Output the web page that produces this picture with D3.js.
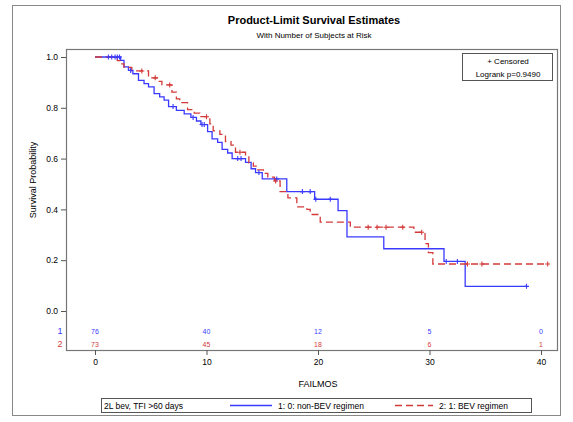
<!DOCTYPE html>
<html><head><meta charset="utf-8">
<script src="https://cdn.jsdelivr.net/npm/d3@7"></script>
<style>
html,body{margin:0;padding:0;background:#fff;}
svg text{font-family:Arial,"Liberation Sans",sans-serif;}
</style></head>
<body><svg id="c" width="573" height="422"></svg>
<script>
// ---- data ----
const xTicks = [0, 10, 20, 30, 40];
const yTicks = [0, 0.2, 0.4, 0.6, 0.8, 1.0];
const groupLabels = ["1: 0: non-BEV regimen", "2: 1: BEV regimen"];
const riskRowLabels = ["1", "2"];
const atRiskBlue = [76, 40, 12, 5, 0];
const atRiskRed = [73, 45, 18, 6, 1];

const blueTimes = [0, 2.3, 2.6, 3.0, 3.4, 3.9, 4.4, 4.8, 5.3, 5.8, 6.2, 6.6, 7.3, 8.0, 8.6, 9.1, 9.5, 10.1, 10.5, 11.0, 11.4, 11.9, 12.3, 13.5, 14.0, 14.4, 15.0, 17.2, 19.7, 21.8, 22.6, 25.9, 31.3, 33.2];
const blueSurv  = [1.0, 0.987, 0.961, 0.947, 0.934, 0.908, 0.895, 0.882, 0.856, 0.843, 0.83, 0.805, 0.79, 0.776, 0.762, 0.748, 0.734, 0.706, 0.678, 0.664, 0.636, 0.622, 0.60, 0.585, 0.56, 0.545, 0.52, 0.47, 0.44, 0.395, 0.292, 0.245, 0.195, 0.097];
const blueCensored = [1.2, 1.5, 1.8, 2.0, 2.2, 3.2, 7.0, 8.8, 9.6, 9.8, 12.8, 13.1, 14.7, 16.3, 18.6, 19.3, 19.8, 21.1, 31.5, 32.5, 38.7];

const redTimes = [0, 2.0, 2.3, 2.6, 3.3, 4.8, 5.6, 6.0, 6.9, 7.3, 7.6, 8.3, 8.9, 9.4, 10.3, 10.6, 11.2, 11.7, 12.2, 12.6, 13.5, 13.8, 14.2, 14.6, 15.1, 15.5, 16.1, 16.6, 17.3, 18.1, 19.0, 19.3, 20.2, 22.9, 28.6, 29.6, 29.9, 30.3];
const redSurv  = [1.0, 0.986, 0.973, 0.959, 0.945, 0.918, 0.904, 0.89, 0.862, 0.835, 0.82, 0.793, 0.779, 0.765, 0.737, 0.709, 0.695, 0.667, 0.653, 0.625, 0.611, 0.583, 0.57, 0.556, 0.542, 0.527, 0.512, 0.47, 0.445, 0.41, 0.40, 0.38, 0.35, 0.33, 0.31, 0.265, 0.23, 0.185];
const redCensored = [4.2, 5.4, 6.7, 10.0, 13.0, 16.2, 24.5, 25.3, 26.1, 27.6, 29.3, 33.4, 34.7, 40.6];

const blueColor = "#3a3aff", redColor = "#d43a3a";

// ---- layout ----
const svg = d3.select("#c");
const plot = {l: 66, r: 557, t: 49, b: 350};
const x = d3.scaleLinear().domain([0, 40]).range([95, 541]);
const y = d3.scaleLinear().domain([0, 1]).range([311, 57]);

svg.append("rect").attr("x", 12.5).attr("y", 5.5).attr("width", 548).attr("height", 410)
  .attr("fill", "#fff").attr("stroke", "#888").attr("stroke-width", 1);

svg.append("text").attr("x", 314).attr("y", 24).attr("text-anchor", "middle")
  .attr("font-size", 11).attr("font-weight", "bold").text("Product-Limit Survival Estimates");
svg.append("text").attr("x", 314).attr("y", 38).attr("text-anchor", "middle")
  .attr("font-size", 8).text("With Number of Subjects at Risk");

svg.append("rect").attr("x", plot.l + 0.5).attr("y", plot.t + 0.5)
  .attr("width", plot.r - plot.l).attr("height", plot.b - plot.t)
  .attr("fill", "none").attr("stroke", "#777").attr("stroke-width", 1.2);

// axes
const yAxis = d3.axisLeft(y).tickValues(yTicks).tickFormat(d3.format(".1f")).tickSize(5).tickPadding(3);
const gy = svg.append("g").attr("transform", `translate(${plot.l},0)`).call(yAxis);
gy.select(".domain").remove();
gy.selectAll("text").attr("font-size", 8.5).attr("fill", "#000");
gy.selectAll("line").attr("stroke", "#555");

const xAxis = d3.axisBottom(x).tickValues(xTicks).tickSize(5).tickPadding(4);
const gx = svg.append("g").attr("transform", `translate(0,${plot.b})`).call(xAxis);
gx.select(".domain").remove();
gx.selectAll("text").attr("font-size", 8.5).attr("fill", "#000");
gx.selectAll("line").attr("stroke", "#555");

svg.append("text").attr("x", 318).attr("y", 387).attr("text-anchor", "middle")
  .attr("font-size", 9).text("FAILMOS");
svg.append("text").attr("transform", "translate(36,180) rotate(-90)").attr("text-anchor", "middle")
  .attr("font-size", 9).text("Survival Probability");

// curves
function stepAt(times, surv, t) {
  let v = surv[0];
  for (let i = 0; i < times.length; i++) if (times[i] <= t) v = surv[i];
  return v;
}
function curvePts(times, surv, cens) {
  const pts = times.map((t, i) => [t, surv[i]]);
  const end = Math.max(d3.max(cens), d3.max(times));
  pts.push([end, surv[surv.length - 1]]);
  return pts;
}
const line = d3.line().x(d => x(d[0])).y(d => y(d[1])).curve(d3.curveStepAfter);

function drawCurve(times, surv, cens, color, dash) {
  svg.append("path").datum(curvePts(times, surv, cens))
    .attr("d", line).attr("fill", "none").attr("stroke", color)
    .attr("stroke-width", 1.3).attr("stroke-dasharray", dash);
}
function drawCens(times, surv, cens, color) {
  const g = svg.append("g");
  cens.forEach(t => {
    const cx = x(t), cy = y(stepAt(times, surv, t));
    g.append("path").attr("d", `M${cx - 2.5},${cy}H${cx + 2.5}M${cx},${cy - 2.5}V${cy + 2.5}`)
      .attr("stroke", color).attr("stroke-width", 1.1).attr("fill", "none");
  });
}
drawCurve(blueTimes, blueSurv, blueCensored, blueColor, null);
drawCurve(redTimes, redSurv, redCensored, redColor, "7,4");
drawCens(blueTimes, blueSurv, blueCensored, blueColor);
drawCens(redTimes, redSurv, redCensored, redColor);

// inset
svg.append("rect").attr("x", 462.5).attr("y", 53.5).attr("width", 90).attr("height", 27)
  .attr("fill", "#fff").attr("stroke", "#555");
svg.append("text").attr("x", 508).attr("y", 64).attr("text-anchor", "middle").attr("font-size", 8).text("+ Censored");
svg.append("text").attr("x", 508).attr("y", 77).attr("text-anchor", "middle").attr("font-size", 8).text("Logrank p=0.9490");

// at risk
const rows = [[atRiskBlue, blueColor, 331], [atRiskRed, redColor, 344]];
rows.forEach(([vals, col, yy], k) => {
  svg.append("text").attr("x", 60).attr("y", yy + 3).attr("text-anchor", "middle")
    .attr("font-size", 9).attr("fill", col).text(riskRowLabels[k]);
  svg.selectAll(null).data(vals).enter().append("text")
    .attr("x", (d, i) => x(xTicks[i])).attr("y", yy + 2.5).attr("text-anchor", "middle")
    .attr("font-size", 7).attr("fill", col).text(d => d);
});

// legend
svg.append("rect").attr("x", 101.5).attr("y", 398.5).attr("width", 430).attr("height", 14)
  .attr("fill", "#fff").attr("stroke", "#555");
svg.append("text").attr("x", 104).attr("y", 409).attr("font-size", 8.5).text("2L bev, TFI >60 days");
svg.append("path").attr("d", "M230,405.5H272").attr("stroke", blueColor).attr("stroke-width", 1.3).attr("fill", "none");
svg.append("text").attr("x", 278).attr("y", 409).attr("font-size", 8.5).text(groupLabels[0]);
svg.append("path").attr("d", "M395,405.5H433").attr("stroke", redColor).attr("stroke-width", 1.3)
  .attr("stroke-dasharray", "7,4").attr("fill", "none");
svg.append("text").attr("x", 439).attr("y", 409).attr("font-size", 8.5).text(groupLabels[1]);
</script></body></html>
